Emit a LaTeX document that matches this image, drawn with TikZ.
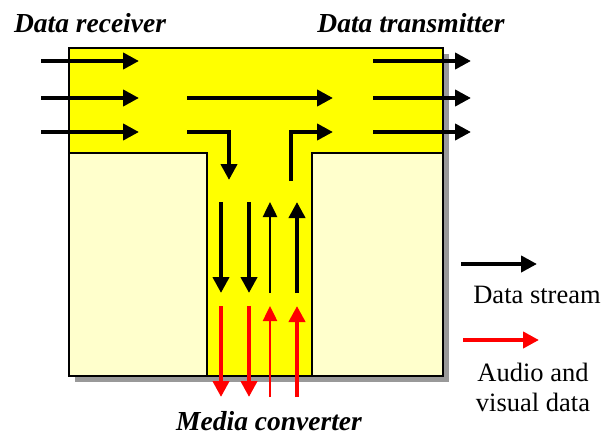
\documentclass[tikz,border=0pt]{standalone}
\usepackage{fontspec}
\setmainfont{Liberation Serif}
\usetikzlibrary{arrows.meta}
\definecolor{boxyellow}{RGB}{255,255,0}
\definecolor{paleyellow}{RGB}{255,255,204}
\definecolor{shadowgray}{RGB}{153,153,153}

\begin{document}
\begin{tikzpicture}[x=1pt,y=-1pt,
  flow/.style={line width=4pt,-{Triangle[length=16pt,width=16pt]}},
  thinflow/.style={line width=2.5pt,-{Triangle[length=15pt,width=14pt]}},
  title/.style={font=\fontsize{27.5}{30}\selectfont\bfseries\itshape,anchor=base,inner sep=0pt},
  legend/.style={font=\fontsize{26.5}{30}\selectfont,align=center}]
\useasboundingbox (0,0) rectangle (615,436);
% box with shadow
\fill[shadowgray] (75,54) rectangle (449,382);
\filldraw[fill=boxyellow,line width=1.5pt] (69,48) rectangle (443,376);
\filldraw[fill=paleyellow,line width=1.2pt] (69,153) rectangle (207,376);
\filldraw[fill=paleyellow,line width=1.2pt] (312,153) rectangle (443,376);
% labels
\node[title] (rx) at (90,33) {Data receiver};
\node[title] (tx) at (411,33) {Data transmitter};
\node[title] (mc) at (269,430) {Media converter};
\node[legend] (ds) at (537,295) {Data stream};
\node[legend] (av) at (533,387) {Audio and\\visual data};
% arrow ends
\coordinate (r1a) at (41,61);  \coordinate (r1b) at (139,61);
\coordinate (r2a) at (41,98);  \coordinate (r2b) at (139,98);
\coordinate (r3a) at (41,132); \coordinate (r3b) at (139,132);
\coordinate (t1a) at (373,61);  \coordinate (t1b) at (471,61);
\coordinate (t2a) at (373,98);  \coordinate (t2b) at (471,98);
\coordinate (t3a) at (373,132); \coordinate (t3b) at (471,132);
\coordinate (pa) at (187,98);  \coordinate (pb) at (333,98);
\coordinate (da) at (187,132); \coordinate (db) at (229,180);
\coordinate (ua) at (291,181); \coordinate (ub) at (333,132);
\coordinate (k1a) at (221,202); \coordinate (k1b) at (221,293);
\coordinate (k2a) at (249,202); \coordinate (k2b) at (249,293);
\coordinate (k3a) at (270,293); \coordinate (k3b) at (270,202);
\coordinate (k4a) at (297,293); \coordinate (k4b) at (297,202);
\coordinate (m1a) at (221,306); \coordinate (m1b) at (221,397);
\coordinate (m2a) at (249,306); \coordinate (m2b) at (249,397);
\coordinate (m3a) at (270,397); \coordinate (m3b) at (270,306);
\coordinate (m4a) at (297,397); \coordinate (m4b) at (297,306);
\coordinate (la) at (461,264); \coordinate (lb) at (537,264);
\coordinate (ra) at (463,340); \coordinate (rb) at (539,340);
% data streams
\draw[flow] (r1a) -- (r1b);
\draw[flow] (r2a) -- (r2b);
\draw[flow] (r3a) -- (r3b);
\draw[flow] (t1a) -- (t1b);
\draw[flow] (t2a) -- (t2b);
\draw[flow] (t3a) -- (t3b);
\draw[flow] (pa) -- (pb);
\draw[flow] (da) -| (db);
\draw[flow] (ua) |- (ub);
\draw[flow] (k1a) -- (k1b);
\draw[flow] (k2a) -- (k2b);
\draw[thinflow] (k3a) -- (k3b);
\draw[flow] (k4a) -- (k4b);
% audio and visual data
\draw[flow,red] (m1a) -- (m1b);
\draw[flow,red] (m2a) -- (m2b);
\draw[thinflow,red] (m3a) -- (m3b);
\draw[flow,red] (m4a) -- (m4b);
% legend
\draw[flow] (la) -- (lb);
\draw[flow,red] (ra) -- (rb);
\end{tikzpicture}
\end{document}
